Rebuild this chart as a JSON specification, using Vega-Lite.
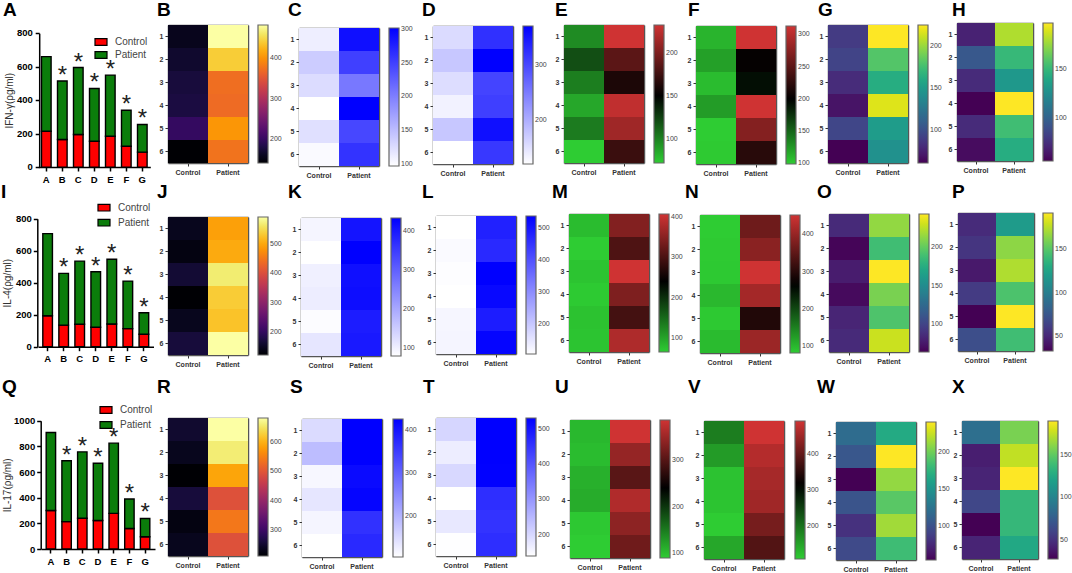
{
"$schema":"https://vega.github.io/schema/vega-lite/v6.json",
"padding":0,
"background":"white",
"columns":8,
"spacing":0,
"bounds":"flush",
"datasets":{
"bars":[
{"panel":"A","group":"A","series":"Control","value":215},{"panel":"A","group":"A","series":"Patient","value":445},
{"panel":"A","group":"B","series":"Control","value":165},{"panel":"A","group":"B","series":"Patient","value":350},
{"panel":"A","group":"C","series":"Control","value":195},{"panel":"A","group":"C","series":"Patient","value":400},
{"panel":"A","group":"D","series":"Control","value":155},{"panel":"A","group":"D","series":"Patient","value":315},
{"panel":"A","group":"E","series":"Control","value":185},{"panel":"A","group":"E","series":"Patient","value":365},
{"panel":"A","group":"F","series":"Control","value":125},{"panel":"A","group":"F","series":"Patient","value":215},
{"panel":"A","group":"G","series":"Control","value":90},{"panel":"A","group":"G","series":"Patient","value":165},
{"panel":"I","group":"A","series":"Control","value":193},{"panel":"I","group":"A","series":"Patient","value":514},
{"panel":"I","group":"B","series":"Control","value":135},{"panel":"I","group":"B","series":"Patient","value":323},
{"panel":"I","group":"C","series":"Control","value":140},{"panel":"I","group":"C","series":"Patient","value":395},
{"panel":"I","group":"D","series":"Control","value":122},{"panel":"I","group":"D","series":"Patient","value":346},
{"panel":"I","group":"E","series":"Control","value":142},{"panel":"I","group":"E","series":"Patient","value":405},
{"panel":"I","group":"F","series":"Control","value":113},{"panel":"I","group":"F","series":"Patient","value":297},
{"panel":"I","group":"G","series":"Control","value":78},{"panel":"I","group":"G","series":"Patient","value":134},
{"panel":"Q","group":"A","series":"Control","value":300},{"panel":"Q","group":"A","series":"Patient","value":608},
{"panel":"Q","group":"B","series":"Control","value":213},{"panel":"Q","group":"B","series":"Patient","value":475},
{"panel":"Q","group":"C","series":"Control","value":240},{"panel":"Q","group":"C","series":"Patient","value":517},
{"panel":"Q","group":"D","series":"Control","value":222},{"panel":"Q","group":"D","series":"Patient","value":446},
{"panel":"Q","group":"E","series":"Control","value":278},{"panel":"Q","group":"E","series":"Patient","value":547},
{"panel":"Q","group":"F","series":"Control","value":160},{"panel":"Q","group":"F","series":"Patient","value":230},
{"panel":"Q","group":"G","series":"Control","value":95},{"panel":"Q","group":"G","series":"Patient","value":143}
],
"stars":[
{"panel":"A","group":"B","total":515,"star":"*"},{"panel":"A","group":"C","total":595,"star":"*"},{"panel":"A","group":"D","total":470,"star":"*"},{"panel":"A","group":"E","total":550,"star":"*"},{"panel":"A","group":"F","total":340,"star":"*"},{"panel":"A","group":"G","total":255,"star":"*"},
{"panel":"I","group":"B","total":458,"star":"*"},{"panel":"I","group":"C","total":535,"star":"*"},{"panel":"I","group":"D","total":468,"star":"*"},{"panel":"I","group":"E","total":547,"star":"*"},{"panel":"I","group":"F","total":410,"star":"*"},{"panel":"I","group":"G","total":212,"star":"*"},
{"panel":"Q","group":"B","total":688,"star":"*"},{"panel":"Q","group":"C","total":757,"star":"*"},{"panel":"Q","group":"D","total":668,"star":"*"},{"panel":"Q","group":"E","total":825,"star":"*"},{"panel":"Q","group":"F","total":390,"star":"*"},{"panel":"Q","group":"G","total":238,"star":"*"}
],
"ticksA":[
{"group":"A","tick":0},{"group":"A","tick":200},{"group":"A","tick":400},{"group":"A","tick":600},{"group":"A","tick":800}
],
"heat":[
{"panel":"B","row":1,"group":"Control","value":157},{"panel":"B","row":2,"group":"Control","value":167},{"panel":"B","row":3,"group":"Control","value":175},{"panel":"B","row":4,"group":"Control","value":178},{"panel":"B","row":5,"group":"Control","value":198},{"panel":"B","row":6,"group":"Control","value":140},
{"panel":"B","row":1,"group":"Patient","value":483},{"panel":"B","row":2,"group":"Patient","value":442},{"panel":"B","row":3,"group":"Patient","value":373},{"panel":"B","row":4,"group":"Patient","value":370},{"panel":"B","row":5,"group":"Patient","value":404},{"panel":"B","row":6,"group":"Patient","value":377},
{"panel":"C","row":1,"group":"Control","value":111},{"panel":"C","row":2,"group":"Control","value":138},{"panel":"C","row":3,"group":"Control","value":125},{"panel":"C","row":4,"group":"Control","value":97},{"panel":"C","row":5,"group":"Control","value":122},{"panel":"C","row":6,"group":"Control","value":101},
{"panel":"C","row":1,"group":"Patient","value":289},{"panel":"C","row":2,"group":"Patient","value":250},{"panel":"C","row":3,"group":"Patient","value":205},{"panel":"C","row":4,"group":"Patient","value":301},{"panel":"C","row":5,"group":"Patient","value":244},{"panel":"C","row":6,"group":"Patient","value":260},
{"panel":"D","row":1,"group":"Control","value":156},{"panel":"D","row":2,"group":"Control","value":176},{"panel":"D","row":3,"group":"Control","value":154},{"panel":"D","row":4,"group":"Control","value":134},{"panel":"D","row":5,"group":"Control","value":176},{"panel":"D","row":6,"group":"Control","value":121},
{"panel":"D","row":1,"group":"Patient","value":324},{"panel":"D","row":2,"group":"Patient","value":371},{"panel":"D","row":3,"group":"Patient","value":304},{"panel":"D","row":4,"group":"Patient","value":309},{"panel":"D","row":5,"group":"Patient","value":356},{"panel":"D","row":6,"group":"Patient","value":316},
{"panel":"E","row":1,"group":"Control","value":97},{"panel":"E","row":2,"group":"Control","value":120},{"panel":"E","row":3,"group":"Control","value":102},{"panel":"E","row":4,"group":"Control","value":86},{"panel":"E","row":5,"group":"Control","value":103},{"panel":"E","row":6,"group":"Control","value":72},
{"panel":"E","row":1,"group":"Patient","value":232},{"panel":"E","row":2,"group":"Patient","value":186},{"panel":"E","row":3,"group":"Patient","value":161},{"panel":"E","row":4,"group":"Patient","value":226},{"panel":"E","row":5,"group":"Patient","value":213},{"panel":"E","row":6,"group":"Patient","value":173},
{"panel":"F","row":1,"group":"Control","value":111},{"panel":"F","row":2,"group":"Control","value":121},{"panel":"F","row":3,"group":"Control","value":107},{"panel":"F","row":4,"group":"Control","value":123},{"panel":"F","row":5,"group":"Control","value":99},{"panel":"F","row":6,"group":"Control","value":100},
{"panel":"F","row":1,"group":"Patient","value":313},{"panel":"F","row":2,"group":"Patient","value":203},{"panel":"F","row":3,"group":"Patient","value":193},{"panel":"F","row":4,"group":"Patient","value":313},{"panel":"F","row":5,"group":"Patient","value":272},{"panel":"F","row":6,"group":"Patient","value":222},
{"panel":"G","row":1,"group":"Control","value":89},{"panel":"G","row":2,"group":"Control","value":94},{"panel":"G","row":3,"group":"Control","value":81},{"panel":"G","row":4,"group":"Control","value":69},{"panel":"G","row":5,"group":"Control","value":95},{"panel":"G","row":6,"group":"Control","value":61},
{"panel":"G","row":1,"group":"Patient","value":225},{"panel":"G","row":2,"group":"Patient","value":181},{"panel":"G","row":3,"group":"Patient","value":163},{"panel":"G","row":4,"group":"Patient","value":217},{"panel":"G","row":5,"group":"Patient","value":151},{"panel":"G","row":6,"group":"Patient","value":143},
{"panel":"H","row":1,"group":"Control","value":68},{"panel":"H","row":2,"group":"Control","value":94},{"panel":"H","row":3,"group":"Control","value":72},{"panel":"H","row":4,"group":"Control","value":55},{"panel":"H","row":5,"group":"Control","value":72},{"panel":"H","row":6,"group":"Control","value":59},
{"panel":"H","row":1,"group":"Patient","value":181},{"panel":"H","row":2,"group":"Patient","value":151},{"panel":"H","row":3,"group":"Patient","value":131},{"panel":"H","row":4,"group":"Patient","value":198},{"panel":"H","row":5,"group":"Patient","value":154},{"panel":"H","row":6,"group":"Patient","value":144},
{"panel":"J","row":1,"group":"Control","value":145},{"panel":"J","row":2,"group":"Control","value":135},{"panel":"J","row":3,"group":"Control","value":163},{"panel":"J","row":4,"group":"Control","value":121},{"panel":"J","row":5,"group":"Control","value":145},{"panel":"J","row":6,"group":"Control","value":168},
{"panel":"J","row":1,"group":"Patient","value":493},{"panel":"J","row":2,"group":"Patient","value":503},{"panel":"J","row":3,"group":"Patient","value":568},{"panel":"J","row":4,"group":"Patient","value":535},{"panel":"J","row":5,"group":"Patient","value":526},{"panel":"J","row":6,"group":"Patient","value":592},
{"panel":"K","row":1,"group":"Control","value":93},{"panel":"K","row":2,"group":"Control","value":79},{"panel":"K","row":3,"group":"Control","value":100},{"panel":"K","row":4,"group":"Control","value":104},{"panel":"K","row":5,"group":"Control","value":83},{"panel":"K","row":6,"group":"Control","value":114},
{"panel":"K","row":1,"group":"Patient","value":405},{"panel":"K","row":2,"group":"Patient","value":433},{"panel":"K","row":3,"group":"Patient","value":412},{"panel":"K","row":4,"group":"Patient","value":415},{"panel":"K","row":5,"group":"Patient","value":394},{"panel":"K","row":6,"group":"Patient","value":398},
{"panel":"L","row":1,"group":"Control","value":107},{"panel":"L","row":2,"group":"Control","value":116},{"panel":"L","row":3,"group":"Control","value":111},{"panel":"L","row":4,"group":"Control","value":107},{"panel":"L","row":5,"group":"Control","value":122},{"panel":"L","row":6,"group":"Control","value":124},
{"panel":"L","row":1,"group":"Patient","value":482},{"panel":"L","row":2,"group":"Patient","value":469},{"panel":"L","row":3,"group":"Patient","value":538},{"panel":"L","row":4,"group":"Patient","value":525},{"panel":"L","row":5,"group":"Patient","value":491},{"panel":"L","row":6,"group":"Patient","value":529},
{"panel":"M","row":1,"group":"Control","value":79},{"panel":"M","row":2,"group":"Control","value":65},{"panel":"M","row":3,"group":"Control","value":72},{"panel":"M","row":4,"group":"Control","value":67},{"panel":"M","row":5,"group":"Control","value":74},{"panel":"M","row":6,"group":"Control","value":72},
{"panel":"M","row":1,"group":"Patient","value":345},{"panel":"M","row":2,"group":"Patient","value":303},{"panel":"M","row":3,"group":"Patient","value":407},{"panel":"M","row":4,"group":"Patient","value":342},{"panel":"M","row":5,"group":"Patient","value":295},{"panel":"M","row":6,"group":"Patient","value":380},
{"panel":"N","row":1,"group":"Control","value":81},{"panel":"N","row":2,"group":"Control","value":83},{"panel":"N","row":3,"group":"Control","value":84},{"panel":"N","row":4,"group":"Control","value":99},{"panel":"N","row":5,"group":"Control","value":84},{"panel":"N","row":6,"group":"Control","value":96},
{"panel":"N","row":1,"group":"Patient","value":364},{"panel":"N","row":2,"group":"Patient","value":390},{"panel":"N","row":3,"group":"Patient","value":452},{"panel":"N","row":4,"group":"Patient","value":413},{"panel":"N","row":5,"group":"Patient","value":295},{"panel":"N","row":6,"group":"Patient","value":405},
{"panel":"O","row":1,"group":"Control","value":85},{"panel":"O","row":2,"group":"Control","value":66},{"panel":"O","row":3,"group":"Control","value":77},{"panel":"O","row":4,"group":"Control","value":68},{"panel":"O","row":5,"group":"Control","value":82},{"panel":"O","row":6,"group":"Control","value":85},
{"panel":"O","row":1,"group":"Patient","value":214},{"panel":"O","row":2,"group":"Patient","value":188},{"panel":"O","row":3,"group":"Patient","value":243},{"panel":"O","row":4,"group":"Patient","value":207},{"panel":"O","row":5,"group":"Patient","value":193},{"panel":"O","row":6,"group":"Patient","value":229},
{"panel":"P","row":1,"group":"Control","value":52},{"panel":"P","row":2,"group":"Control","value":57},{"panel":"P","row":3,"group":"Control","value":43},{"panel":"P","row":4,"group":"Control","value":60},{"panel":"P","row":5,"group":"Control","value":33},{"panel":"P","row":6,"group":"Control","value":70},
{"panel":"P","row":1,"group":"Patient","value":120},{"panel":"P","row":2,"group":"Patient","value":165},{"panel":"P","row":3,"group":"Patient","value":173},{"panel":"P","row":4,"group":"Patient","value":147},{"panel":"P","row":5,"group":"Patient","value":192},{"panel":"P","row":6,"group":"Patient","value":143},
{"panel":"R","row":1,"group":"Control","value":249},{"panel":"R","row":2,"group":"Control","value":235},{"panel":"R","row":3,"group":"Control","value":211},{"panel":"R","row":4,"group":"Control","value":258},{"panel":"R","row":5,"group":"Control","value":225},{"panel":"R","row":6,"group":"Control","value":235},
{"panel":"R","row":1,"group":"Patient","value":681},{"panel":"R","row":2,"group":"Patient","value":658},{"panel":"R","row":3,"group":"Patient","value":587},{"panel":"R","row":4,"group":"Patient","value":493},{"panel":"R","row":5,"group":"Patient","value":540},{"panel":"R","row":6,"group":"Patient","value":493},
{"panel":"S","row":1,"group":"Control","value":150},{"panel":"S","row":2,"group":"Control","value":188},{"panel":"S","row":3,"group":"Control","value":115},{"panel":"S","row":4,"group":"Control","value":137},{"panel":"S","row":5,"group":"Control","value":118},{"panel":"S","row":6,"group":"Control","value":105},
{"panel":"S","row":1,"group":"Patient","value":425},{"panel":"S","row":2,"group":"Patient","value":425},{"panel":"S","row":3,"group":"Patient","value":412},{"panel":"S","row":4,"group":"Patient","value":419},{"panel":"S","row":5,"group":"Patient","value":364},{"panel":"S","row":6,"group":"Patient","value":374},
{"panel":"T","row":1,"group":"Control","value":202},{"panel":"T","row":2,"group":"Control","value":167},{"panel":"T","row":3,"group":"Control","value":199},{"panel":"T","row":4,"group":"Control","value":140},{"panel":"T","row":5,"group":"Control","value":175},{"panel":"T","row":6,"group":"Control","value":141},
{"panel":"T","row":1,"group":"Patient","value":530},{"panel":"T","row":2,"group":"Patient","value":530},{"panel":"T","row":3,"group":"Patient","value":528},{"panel":"T","row":4,"group":"Patient","value":460},{"panel":"T","row":5,"group":"Patient","value":452},{"panel":"T","row":6,"group":"Patient","value":460},
{"panel":"U","row":1,"group":"Control","value":104},{"panel":"U","row":2,"group":"Control","value":101},{"panel":"U","row":3,"group":"Control","value":110},{"panel":"U","row":4,"group":"Control","value":113},{"panel":"U","row":5,"group":"Control","value":92},{"panel":"U","row":6,"group":"Control","value":89},
{"panel":"U","row":1,"group":"Patient","value":387},{"panel":"U","row":2,"group":"Patient","value":346},{"panel":"U","row":3,"group":"Patient","value":303},{"panel":"U","row":4,"group":"Patient","value":365},{"panel":"U","row":5,"group":"Patient","value":340},{"panel":"U","row":6,"group":"Patient","value":319},
{"panel":"V","row":1,"group":"Control","value":189},{"panel":"V","row":2,"group":"Control","value":158},{"panel":"V","row":3,"group":"Control","value":119},{"panel":"V","row":4,"group":"Control","value":117},{"panel":"V","row":5,"group":"Control","value":109},{"panel":"V","row":6,"group":"Control","value":146},
{"panel":"V","row":1,"group":"Patient","value":491},{"panel":"V","row":2,"group":"Patient","value":468},{"panel":"V","row":3,"group":"Patient","value":456},{"panel":"V","row":4,"group":"Patient","value":451},{"panel":"V","row":5,"group":"Patient","value":415},{"panel":"V","row":6,"group":"Patient","value":385},
{"panel":"W","row":1,"group":"Control","value":119},{"panel":"W","row":2,"group":"Control","value":104},{"panel":"W","row":3,"group":"Control","value":54},{"panel":"W","row":4,"group":"Control","value":102},{"panel":"W","row":5,"group":"Control","value":80},{"panel":"W","row":6,"group":"Control","value":95},
{"panel":"W","row":1,"group":"Patient","value":167},{"panel":"W","row":2,"group":"Patient","value":240},{"panel":"W","row":3,"group":"Patient","value":210},{"panel":"W","row":4,"group":"Patient","value":192},{"panel":"W","row":5,"group":"Patient","value":214},{"panel":"W","row":6,"group":"Patient","value":182},
{"panel":"X","row":1,"group":"Control","value":86},{"panel":"X","row":2,"group":"Control","value":40},{"panel":"X","row":3,"group":"Control","value":43},{"panel":"X","row":4,"group":"Control","value":61},{"panel":"X","row":5,"group":"Control","value":27},{"panel":"X","row":6,"group":"Control","value":43},
{"panel":"X","row":1,"group":"Patient","value":157},{"panel":"X","row":2,"group":"Patient","value":175},{"panel":"X","row":3,"group":"Patient","value":190},{"panel":"X","row":4,"group":"Patient","value":136},{"panel":"X","row":5,"group":"Patient","value":136},{"panel":"X","row":6,"group":"Patient","value":125}
]
},
"concat":[
{"title":{"text":"A","offset":-20,"dx":3},"width":155,"height":185,"layer":[
{"data":{"name":"bars"},"transform":[{"filter":"datum.panel=='A'"}],"mark":{"type":"bar","stroke":"black","strokeWidth":1.4},"encoding":{
"x":{"field":"group","type":"nominal","scale":{"range":[38.3,150.3],"paddingInner":0.4,"paddingOuter":0.2},"axis":{"orient":"bottom","offset":-18,"title":null,"labelFontSize":9.5,"labelColor":"black","domainColor":"black","tickColor":"black","tickSize":4,"tickWidth":1.5,"labelPadding":3}},
"y":{"field":"value","type":"quantitative","stack":"zero","scale":{"domain":[0,800],"range":[167.2,33.2]},"axis":{"orient":"left","offset":-39.2,"tickCount":5,"labels":false,"title":"IFN-γ(ρg/ml)","titleFont":"Liberation Sans","titleFontSize":10,"titleFontWeight":"normal","titleColor":"#333","titlePadding":20,"domainColor":"black","tickColor":"black","tickSize":4,"tickWidth":1.5}},
"order":{"field":"series","sort":"ascending"},
"color":{"field":"series","type":"nominal","scale":{"domain":["Control","Patient"],"range":["#ff0000","#0b7d0b"]},"legend":{"orient":"none","legendX":94,"legendY":35,"title":null,"symbolType":"M-1,-0.55H1V0.55H-1Z","symbolSize":144,"symbolStrokeColor":"black","symbolStrokeWidth":1.2,"symbolOpacity":1,"labelFontSize":10,"labelColor":"#444","labelOffset":7,"rowPadding":0,"labelExpr":"datum.label=='Patient'?'\u00a0Patient':datum.label"}}}},
{"data":{"name":"stars"},"transform":[{"filter":"datum.panel=='A'"}],"mark":{"type":"text","font":"Liberation Sans","fontSize":24,"baseline":"alphabetic","dy":2,"color":"#222"},"encoding":{"x":{"field":"group","type":"nominal","axis":null},"y":{"field":"total","type":"quantitative","axis":null},"text":{"field":"star"}}},
{"data":{"name":"ticksA"},"mark":{"type":"text","font":"Liberation Sans","fontSize":9.5,"fontWeight":"bold","align":"right","baseline":"middle","dx":-13.4,"color":"black"},"encoding":{"x":{"field":"group","type":"nominal","axis":null},"y":{"field":"tick","type":"quantitative","axis":null},"text":{"field":"tick","type":"quantitative","format":"d"}}}
],"resolve":{"axis":{"x":"independent","y":"independent"}}},
{"title":{"text":"B","offset":-20,"dx":2},"width":131,"height":185,"data":{"name":"heat"},"transform":[{"filter":"datum.panel=='B'"}],"layer":[
{"mark":"rect","encoding":{"x":{"field":"group","type":"nominal","scale":{"range":[13,93],"padding":0},"axis":{"orient":"bottom","offset":-22,"title":null}},"y":{"field":"row","type":"ordinal","scale":{"range":[25,163],"padding":0},"axis":{"orient":"left","offset":-13,"title":null}},"color":{"field":"value","type":"quantitative","scale":{"domain":[140,483],"scheme":"inferno"},"legend":{"orient":"none","legendX":103,"legendY":25,"gradientLength":138,"values":[200,300,400]}}}},
{"mark":{"type":"rect","opacity":0},"encoding":{"x":{"field":"group","type":"nominal","axis":{"orient":"top","offset":-25,"labels":false,"ticks":false,"title":null}},"y":{"field":"row","type":"ordinal","axis":{"orient":"right","offset":-38,"labels":false,"ticks":false,"title":null}}}}
],"resolve":{"axis":{"x":"independent","y":"independent"}}},
{"title":{"text":"C","offset":-20,"dx":2},"width":132,"height":185,"data":{"name":"heat"},"transform":[{"filter":"datum.panel=='C'"}],"layer":[
{"mark":"rect","encoding":{"x":{"field":"group","type":"nominal","scale":{"range":[13,93],"padding":0},"axis":{"orient":"bottom","offset":-19,"title":null}},"y":{"field":"row","type":"ordinal","scale":{"range":[28,166],"padding":0},"axis":{"orient":"left","offset":-13,"title":null}},"color":{"field":"value","type":"quantitative","scale":{"domain":[97,301],"range":["#ffffff","#0000ff"],"interpolate":"rgb"},"legend":{"orient":"none","legendX":103,"legendY":28,"gradientLength":138,"values":[100,150,200,250,300]}}}},
{"mark":{"type":"rect","opacity":0},"encoding":{"x":{"field":"group","type":"nominal","axis":{"orient":"top","offset":-28,"labels":false,"ticks":false,"title":null}},"y":{"field":"row","type":"ordinal","axis":{"orient":"right","offset":-39,"labels":false,"ticks":false,"title":null}}}}
],"resolve":{"axis":{"x":"independent","y":"independent"}}},
{"title":{"text":"D","offset":-20,"dx":4},"width":132,"height":185,"data":{"name":"heat"},"transform":[{"filter":"datum.panel=='D'"}],"layer":[
{"mark":"rect","encoding":{"x":{"field":"group","type":"nominal","scale":{"range":[15,95],"padding":0},"axis":{"orient":"bottom","offset":-21,"title":null}},"y":{"field":"row","type":"ordinal","scale":{"range":[26,164],"padding":0},"axis":{"orient":"left","offset":-15,"title":null}},"color":{"field":"value","type":"quantitative","scale":{"domain":[121,371],"range":["#ffffff","#0000ff"],"interpolate":"rgb"},"legend":{"orient":"none","legendX":105,"legendY":26,"gradientLength":138,"values":[200,300]}}}},
{"mark":{"type":"rect","opacity":0},"encoding":{"x":{"field":"group","type":"nominal","axis":{"orient":"top","offset":-26,"labels":false,"ticks":false,"title":null}},"y":{"field":"row","type":"ordinal","axis":{"orient":"right","offset":-37,"labels":false,"ticks":false,"title":null}}}}
],"resolve":{"axis":{"x":"independent","y":"independent"}}},
{"title":{"text":"E","offset":-20,"dx":5},"width":134,"height":185,"data":{"name":"heat"},"transform":[{"filter":"datum.panel=='E'"}],"layer":[
{"mark":"rect","encoding":{"x":{"field":"group","type":"nominal","scale":{"range":[14,94],"padding":0},"axis":{"orient":"bottom","offset":-22,"title":null}},"y":{"field":"row","type":"ordinal","scale":{"range":[25,163],"padding":0},"axis":{"orient":"left","offset":-14,"title":null}},"color":{"field":"value","type":"quantitative","scale":{"domain":[72,150,232],"range":["#2ecc33","#000000","#cf3333"],"interpolate":"rgb"},"legend":{"orient":"none","legendX":104,"legendY":25,"gradientLength":138,"values":[100,150,200]}}}},
{"mark":{"type":"rect","opacity":0},"encoding":{"x":{"field":"group","type":"nominal","axis":{"orient":"top","offset":-25,"labels":false,"ticks":false,"title":null}},"y":{"field":"row","type":"ordinal","axis":{"orient":"right","offset":-40,"labels":false,"ticks":false,"title":null}}}}
],"resolve":{"axis":{"x":"independent","y":"independent"}}},
{"title":{"text":"F","offset":-20,"dx":4},"width":132,"height":185,"data":{"name":"heat"},"transform":[{"filter":"datum.panel=='F'"}],"layer":[
{"mark":"rect","encoding":{"x":{"field":"group","type":"nominal","scale":{"range":[12,92],"padding":0},"axis":{"orient":"bottom","offset":-21,"title":null}},"y":{"field":"row","type":"ordinal","scale":{"range":[26,164],"padding":0},"axis":{"orient":"left","offset":-12,"title":null}},"color":{"field":"value","type":"quantitative","scale":{"domain":[99,200,313],"range":["#2ecc33","#000000","#cf3333"],"interpolate":"rgb"},"legend":{"orient":"none","legendX":102,"legendY":26,"gradientLength":138,"values":[100,150,200,250,300]}}}},
{"mark":{"type":"rect","opacity":0},"encoding":{"x":{"field":"group","type":"nominal","axis":{"orient":"top","offset":-26,"labels":false,"ticks":false,"title":null}},"y":{"field":"row","type":"ordinal","axis":{"orient":"right","offset":-40,"labels":false,"ticks":false,"title":null}}}}
],"resolve":{"axis":{"x":"independent","y":"independent"}}},
{"title":{"text":"G","offset":-20,"dx":2},"width":132,"height":185,"data":{"name":"heat"},"transform":[{"filter":"datum.panel=='G'"}],"layer":[
{"mark":"rect","encoding":{"x":{"field":"group","type":"nominal","scale":{"range":[12,92],"padding":0},"axis":{"orient":"bottom","offset":-22,"title":null}},"y":{"field":"row","type":"ordinal","scale":{"range":[25,163],"padding":0},"axis":{"orient":"left","offset":-12,"title":null}},"color":{"field":"value","type":"quantitative","scale":{"domain":[61,225],"scheme":"viridis"},"legend":{"orient":"none","legendX":102,"legendY":25,"gradientLength":138,"values":[100,150,200]}}}},
{"mark":{"type":"rect","opacity":0},"encoding":{"x":{"field":"group","type":"nominal","axis":{"orient":"top","offset":-25,"labels":false,"ticks":false,"title":null}},"y":{"field":"row","type":"ordinal","axis":{"orient":"right","offset":-40,"labels":false,"ticks":false,"title":null}}}}
],"resolve":{"axis":{"x":"independent","y":"independent"}}},
{"title":{"text":"H","offset":-20,"dx":4},"width":124,"height":185,"data":{"name":"heat"},"transform":[{"filter":"datum.panel=='H'"}],"layer":[
{"mark":"rect","encoding":{"x":{"field":"group","type":"nominal","scale":{"range":[9,85],"padding":0},"axis":{"orient":"bottom","offset":-24,"title":null}},"y":{"field":"row","type":"ordinal","scale":{"range":[23,161],"padding":0},"axis":{"orient":"left","offset":-9,"title":null}},"color":{"field":"value","type":"quantitative","scale":{"domain":[55,198],"scheme":"viridis"},"legend":{"orient":"none","legendX":95,"legendY":23,"gradientLength":138,"values":[100,150]}}}},
{"mark":{"type":"rect","opacity":0},"encoding":{"x":{"field":"group","type":"nominal","axis":{"orient":"top","offset":-23,"labels":false,"ticks":false,"title":null}},"y":{"field":"row","type":"ordinal","axis":{"orient":"right","offset":-39,"labels":false,"ticks":false,"title":null}}}}
],"resolve":{"axis":{"x":"independent","y":"independent"}}},

{"title":{"text":"I","offset":-17,"dx":1},"width":155,"height":193,"layer":[
{"data":{"name":"bars"},"transform":[{"filter":"datum.panel=='I'"}],"mark":{"type":"bar","stroke":"black","strokeWidth":1.4},"encoding":{
"x":{"field":"group","type":"nominal","scale":{"range":[38,153.5],"paddingInner":0.4,"paddingOuter":0.3},"axis":{"orient":"bottom","offset":-31.3,"title":null,"labelFontSize":9.5,"labelColor":"black","domainColor":"black","tickColor":"black","tickSize":4,"tickWidth":1.5,"labelPadding":3}},
"y":{"field":"value","type":"quantitative","stack":"zero","scale":{"domain":[0,800],"range":[161.7,33.7]},"axis":{"orient":"left","offset":-37.3,"values":[0,200,400,600,800],"format":"d","labelOverlap":false,"title":"IL-4(ρg/ml)","titleFont":"Liberation Sans","titleFontSize":10,"titleFontWeight":"normal","titleColor":"#333","titlePadding":3,"labelFontSize":9.5,"labelColor":"black","domainColor":"black","tickColor":"black","tickSize":4,"tickWidth":1.5,"labelPadding":2}},
"order":{"field":"series","sort":"ascending"},
"color":{"field":"series","type":"nominal","scale":{"domain":["Control","Patient"],"range":["#ff0000","#0b7d0b"]},"legend":{"orient":"none","legendX":97,"legendY":15.7,"title":null,"symbolType":"M-1,-0.55H1V0.55H-1Z","symbolSize":144,"symbolStrokeColor":"black","symbolStrokeWidth":1.2,"symbolOpacity":1,"labelFontSize":10,"labelColor":"#444","labelOffset":7,"rowPadding":2,"labelExpr":"datum.label=='Patient'?'\u00a0Patient':datum.label"}}}},
{"data":{"name":"stars"},"transform":[{"filter":"datum.panel=='I'"}],"mark":{"type":"text","font":"Liberation Sans","fontSize":24,"baseline":"alphabetic","dy":2,"color":"#222"},"encoding":{"x":{"field":"group","type":"nominal","axis":null},"y":{"field":"total","type":"quantitative","axis":null},"text":{"field":"star"}}}
],"resolve":{"axis":{"x":"independent","y":"independent"}}},
{"title":{"text":"J","offset":-17,"dx":2},"width":131,"height":193,"data":{"name":"heat"},"transform":[{"filter":"datum.panel=='J'"}],"layer":[
{"mark":"rect","encoding":{"x":{"field":"group","type":"nominal","scale":{"range":[13,93],"padding":0},"axis":{"orient":"bottom","offset":-23,"title":null}},"y":{"field":"row","type":"ordinal","scale":{"range":[32,170],"padding":0},"axis":{"orient":"left","offset":-13,"title":null}},"color":{"field":"value","type":"quantitative","scale":{"domain":[121,592],"scheme":"inferno"},"legend":{"orient":"none","legendX":103,"legendY":32,"gradientLength":138,"values":[200,300,400,500]}}}},
{"mark":{"type":"rect","opacity":0},"encoding":{"x":{"field":"group","type":"nominal","axis":{"orient":"top","offset":-32,"labels":false,"ticks":false,"title":null}},"y":{"field":"row","type":"ordinal","axis":{"orient":"right","offset":-38,"labels":false,"ticks":false,"title":null}}}}
],"resolve":{"axis":{"x":"independent","y":"independent"}}},
{"title":{"text":"K","offset":-17,"dx":2},"width":132,"height":193,"data":{"name":"heat"},"transform":[{"filter":"datum.panel=='K'"}],"layer":[
{"mark":"rect","encoding":{"x":{"field":"group","type":"nominal","scale":{"range":[15,95],"padding":0},"axis":{"orient":"bottom","offset":-22,"title":null}},"y":{"field":"row","type":"ordinal","scale":{"range":[33,171],"padding":0},"axis":{"orient":"left","offset":-15,"title":null}},"color":{"field":"value","type":"quantitative","scale":{"domain":[79,433],"range":["#ffffff","#0000ff"],"interpolate":"rgb"},"legend":{"orient":"none","legendX":105,"legendY":33,"gradientLength":138,"values":[100,200,300,400]}}}},
{"mark":{"type":"rect","opacity":0},"encoding":{"x":{"field":"group","type":"nominal","axis":{"orient":"top","offset":-33,"labels":false,"ticks":false,"title":null}},"y":{"field":"row","type":"ordinal","axis":{"orient":"right","offset":-37,"labels":false,"ticks":false,"title":null}}}}
],"resolve":{"axis":{"x":"independent","y":"independent"}}},
{"title":{"text":"L","offset":-17,"dx":4},"width":132,"height":193,"data":{"name":"heat"},"transform":[{"filter":"datum.panel=='L'"}],"layer":[
{"mark":"rect","encoding":{"x":{"field":"group","type":"nominal","scale":{"range":[18,98],"padding":0},"axis":{"orient":"bottom","offset":-24,"title":null}},"y":{"field":"row","type":"ordinal","scale":{"range":[31,169],"padding":0},"axis":{"orient":"left","offset":-18,"title":null}},"color":{"field":"value","type":"quantitative","scale":{"domain":[107,538],"range":["#ffffff","#0000ff"],"interpolate":"rgb"},"legend":{"orient":"none","legendX":108,"legendY":31,"gradientLength":138,"values":[200,300,400,500]}}}},
{"mark":{"type":"rect","opacity":0},"encoding":{"x":{"field":"group","type":"nominal","axis":{"orient":"top","offset":-31,"labels":false,"ticks":false,"title":null}},"y":{"field":"row","type":"ordinal","axis":{"orient":"right","offset":-34,"labels":false,"ticks":false,"title":null}}}}
],"resolve":{"axis":{"x":"independent","y":"independent"}}},
{"title":{"text":"M","offset":-17,"dx":2},"width":134,"height":193,"data":{"name":"heat"},"transform":[{"filter":"datum.panel=='M'"}],"layer":[
{"mark":"rect","encoding":{"x":{"field":"group","type":"nominal","scale":{"range":[19,99],"padding":0},"axis":{"orient":"bottom","offset":-26,"title":null}},"y":{"field":"row","type":"ordinal","scale":{"range":[29,167],"padding":0},"axis":{"orient":"left","offset":-19,"title":null}},"color":{"field":"value","type":"quantitative","scale":{"domain":[65,240,407],"range":["#2ecc33","#000000","#cf3333"],"interpolate":"rgb"},"legend":{"orient":"none","legendX":109,"legendY":29,"gradientLength":138,"values":[100,200,300,400]}}}},
{"mark":{"type":"rect","opacity":0},"encoding":{"x":{"field":"group","type":"nominal","axis":{"orient":"top","offset":-29,"labels":false,"ticks":false,"title":null}},"y":{"field":"row","type":"ordinal","axis":{"orient":"right","offset":-35,"labels":false,"ticks":false,"title":null}}}}
],"resolve":{"axis":{"x":"independent","y":"independent"}}},
{"title":{"text":"N","offset":-17,"dx":1},"width":132,"height":193,"data":{"name":"heat"},"transform":[{"filter":"datum.panel=='N'"}],"layer":[
{"mark":"rect","encoding":{"x":{"field":"group","type":"nominal","scale":{"range":[16,96],"padding":0},"axis":{"orient":"bottom","offset":-25,"title":null}},"y":{"field":"row","type":"ordinal","scale":{"range":[30,168],"padding":0},"axis":{"orient":"left","offset":-16,"title":null}},"color":{"field":"value","type":"quantitative","scale":{"domain":[81,265,452],"range":["#2ecc33","#000000","#cf3333"],"interpolate":"rgb"},"legend":{"orient":"none","legendX":106,"legendY":30,"gradientLength":138,"values":[100,200,300,400]}}}},
{"mark":{"type":"rect","opacity":0},"encoding":{"x":{"field":"group","type":"nominal","axis":{"orient":"top","offset":-30,"labels":false,"ticks":false,"title":null}},"y":{"field":"row","type":"ordinal","axis":{"orient":"right","offset":-36,"labels":false,"ticks":false,"title":null}}}}
],"resolve":{"axis":{"x":"independent","y":"independent"}}},
{"title":{"text":"O","offset":-17,"dx":1},"width":132,"height":193,"data":{"name":"heat"},"transform":[{"filter":"datum.panel=='O'"}],"layer":[
{"mark":"rect","encoding":{"x":{"field":"group","type":"nominal","scale":{"range":[13,93],"padding":0},"axis":{"orient":"bottom","offset":-26,"title":null}},"y":{"field":"row","type":"ordinal","scale":{"range":[29,167],"padding":0},"axis":{"orient":"left","offset":-13,"title":null}},"color":{"field":"value","type":"quantitative","scale":{"domain":[64,243],"scheme":"viridis"},"legend":{"orient":"none","legendX":103,"legendY":29,"gradientLength":138,"values":[100,150,200]}}}},
{"mark":{"type":"rect","opacity":0},"encoding":{"x":{"field":"group","type":"nominal","axis":{"orient":"top","offset":-29,"labels":false,"ticks":false,"title":null}},"y":{"field":"row","type":"ordinal","axis":{"orient":"right","offset":-39,"labels":false,"ticks":false,"title":null}}}}
],"resolve":{"axis":{"x":"independent","y":"independent"}}},
{"title":{"text":"P","offset":-17,"dx":4},"width":124,"height":193,"data":{"name":"heat"},"transform":[{"filter":"datum.panel=='P'"}],"layer":[
{"mark":"rect","encoding":{"x":{"field":"group","type":"nominal","scale":{"range":[10,86],"padding":0},"axis":{"orient":"bottom","offset":-27,"title":null}},"y":{"field":"row","type":"ordinal","scale":{"range":[28,166],"padding":0},"axis":{"orient":"left","offset":-10,"title":null}},"color":{"field":"value","type":"quantitative","scale":{"domain":[33,192],"scheme":"viridis"},"legend":{"orient":"none","legendX":95,"legendY":28,"gradientLength":138,"values":[50,100,150]}}}},
{"mark":{"type":"rect","opacity":0},"encoding":{"x":{"field":"group","type":"nominal","axis":{"orient":"top","offset":-28,"labels":false,"ticks":false,"title":null}},"y":{"field":"row","type":"ordinal","axis":{"orient":"right","offset":-38,"labels":false,"ticks":false,"title":null}}}}
],"resolve":{"axis":{"x":"independent","y":"independent"}}},

{"title":{"text":"Q","offset":-19,"dx":2},"width":155,"height":195,"layer":[
{"data":{"name":"bars"},"transform":[{"filter":"datum.panel=='Q'"}],"mark":{"type":"bar","stroke":"black","strokeWidth":1.4},"encoding":{
"x":{"field":"group","type":"nominal","scale":{"range":[41,155],"paddingInner":0.4,"paddingOuter":0.33},"axis":{"orient":"bottom","offset":-24,"title":null,"labelFontSize":9.5,"labelColor":"black","domainColor":"black","tickColor":"black","tickSize":4,"tickWidth":1.5,"labelPadding":3}},
"y":{"field":"value","type":"quantitative","stack":"zero","scale":{"domain":[0,1000],"range":[171,42.7]},"axis":{"orient":"left","offset":-40.7,"values":[0,200,400,600,800,1000],"format":"d","labelOverlap":false,"title":"IL-17(ρg/ml)","titleFont":"Liberation Sans","titleFontSize":10,"titleFontWeight":"normal","titleColor":"#333","titlePadding":1,"labelFontSize":9.5,"labelColor":"black","domainColor":"black","tickColor":"black","tickSize":4,"tickWidth":1.5,"labelPadding":2}},
"order":{"field":"series","sort":"ascending"},
"color":{"field":"series","type":"nominal","scale":{"domain":["Control","Patient"],"range":["#ff0000","#0b7d0b"]},"legend":{"orient":"none","legendX":99,"legendY":25,"title":null,"symbolType":"M-1,-0.55H1V0.55H-1Z","symbolSize":144,"symbolStrokeColor":"black","symbolStrokeWidth":1.2,"symbolOpacity":1,"labelFontSize":10,"labelColor":"#444","labelOffset":7,"rowPadding":2,"labelExpr":"datum.label=='Patient'?'\u00a0Patient':datum.label"}}}},
{"data":{"name":"stars"},"transform":[{"filter":"datum.panel=='Q'"}],"mark":{"type":"text","font":"Liberation Sans","fontSize":24,"baseline":"alphabetic","dy":2,"color":"#222"},"encoding":{"x":{"field":"group","type":"nominal","axis":null},"y":{"field":"total","type":"quantitative","axis":null},"text":{"field":"star"}}}
],"resolve":{"axis":{"x":"independent","y":"independent"}}},
{"title":{"text":"R","offset":-19,"dx":2},"width":131,"height":195,"data":{"name":"heat"},"transform":[{"filter":"datum.panel=='R'"}],"layer":[
{"mark":"rect","encoding":{"x":{"field":"group","type":"nominal","scale":{"range":[13,93],"padding":0},"axis":{"orient":"bottom","offset":-17,"title":null}},"y":{"field":"row","type":"ordinal","scale":{"range":[40,178],"padding":0},"axis":{"orient":"left","offset":-13,"title":null}},"color":{"field":"value","type":"quantitative","scale":{"domain":[211,681],"scheme":"inferno"},"legend":{"orient":"none","legendX":103,"legendY":40,"gradientLength":138,"values":[300,400,500,600]}}}},
{"mark":{"type":"rect","opacity":0},"encoding":{"x":{"field":"group","type":"nominal","axis":{"orient":"top","offset":-40,"labels":false,"ticks":false,"title":null}},"y":{"field":"row","type":"ordinal","axis":{"orient":"right","offset":-38,"labels":false,"ticks":false,"title":null}}}}
],"resolve":{"axis":{"x":"independent","y":"independent"}}},
{"title":{"text":"S","offset":-19,"dx":4},"width":132,"height":195,"data":{"name":"heat"},"transform":[{"filter":"datum.panel=='S'"}],"layer":[
{"mark":"rect","encoding":{"x":{"field":"group","type":"nominal","scale":{"range":[16,96],"padding":0},"axis":{"orient":"bottom","offset":-16,"title":null}},"y":{"field":"row","type":"ordinal","scale":{"range":[41,179],"padding":0},"axis":{"orient":"left","offset":-16,"title":null}},"color":{"field":"value","type":"quantitative","scale":{"domain":[105,425],"range":["#ffffff","#0000ff"],"interpolate":"rgb"},"legend":{"orient":"none","legendX":107,"legendY":41,"gradientLength":138,"values":[200,300,400]}}}},
{"mark":{"type":"rect","opacity":0},"encoding":{"x":{"field":"group","type":"nominal","axis":{"orient":"top","offset":-41,"labels":false,"ticks":false,"title":null}},"y":{"field":"row","type":"ordinal","axis":{"orient":"right","offset":-36,"labels":false,"ticks":false,"title":null}}}}
],"resolve":{"axis":{"x":"independent","y":"independent"}}},
{"title":{"text":"T","offset":-19,"dx":5},"width":132,"height":195,"data":{"name":"heat"},"transform":[{"filter":"datum.panel=='T'"}],"layer":[
{"mark":"rect","encoding":{"x":{"field":"group","type":"nominal","scale":{"range":[18,98],"padding":0},"axis":{"orient":"bottom","offset":-17,"title":null}},"y":{"field":"row","type":"ordinal","scale":{"range":[40,178],"padding":0},"axis":{"orient":"left","offset":-18,"title":null}},"color":{"field":"value","type":"quantitative","scale":{"domain":[140,530],"range":["#ffffff","#0000ff"],"interpolate":"rgb"},"legend":{"orient":"none","legendX":108,"legendY":40,"gradientLength":138,"values":[200,300,400,500]}}}},
{"mark":{"type":"rect","opacity":0},"encoding":{"x":{"field":"group","type":"nominal","axis":{"orient":"top","offset":-40,"labels":false,"ticks":false,"title":null}},"y":{"field":"row","type":"ordinal","axis":{"orient":"right","offset":-34,"labels":false,"ticks":false,"title":null}}}}
],"resolve":{"axis":{"x":"independent","y":"independent"}}},
{"title":{"text":"U","offset":-19,"dx":5},"width":134,"height":195,"data":{"name":"heat"},"transform":[{"filter":"datum.panel=='U'"}],"layer":[
{"mark":"rect","encoding":{"x":{"field":"group","type":"nominal","scale":{"range":[20,100],"padding":0},"axis":{"orient":"bottom","offset":-15,"title":null}},"y":{"field":"row","type":"ordinal","scale":{"range":[42,180],"padding":0},"axis":{"orient":"left","offset":-20,"title":null}},"color":{"field":"value","type":"quantitative","scale":{"domain":[89,240,387],"range":["#2ecc33","#000000","#cf3333"],"interpolate":"rgb"},"legend":{"orient":"none","legendX":110,"legendY":42,"gradientLength":138,"values":[100,200,300]}}}},
{"mark":{"type":"rect","opacity":0},"encoding":{"x":{"field":"group","type":"nominal","axis":{"orient":"top","offset":-42,"labels":false,"ticks":false,"title":null}},"y":{"field":"row","type":"ordinal","axis":{"orient":"right","offset":-34,"labels":false,"ticks":false,"title":null}}}}
],"resolve":{"axis":{"x":"independent","y":"independent"}}},
{"title":{"text":"V","offset":-19,"dx":4},"width":132,"height":195,"data":{"name":"heat"},"transform":[{"filter":"datum.panel=='V'"}],"layer":[
{"mark":"rect","encoding":{"x":{"field":"group","type":"nominal","scale":{"range":[20,100],"padding":0},"axis":{"orient":"bottom","offset":-14,"title":null}},"y":{"field":"row","type":"ordinal","scale":{"range":[43,181],"padding":0},"axis":{"orient":"left","offset":-20,"title":null}},"color":{"field":"value","type":"quantitative","scale":{"domain":[109,315,491],"range":["#2ecc33","#000000","#cf3333"],"interpolate":"rgb"},"legend":{"orient":"none","legendX":111,"legendY":43,"gradientLength":138,"values":[200,300,400]}}}},
{"mark":{"type":"rect","opacity":0},"encoding":{"x":{"field":"group","type":"nominal","axis":{"orient":"top","offset":-43,"labels":false,"ticks":false,"title":null}},"y":{"field":"row","type":"ordinal","axis":{"orient":"right","offset":-32,"labels":false,"ticks":false,"title":null}}}}
],"resolve":{"axis":{"x":"independent","y":"independent"}}},
{"title":{"text":"W","offset":-19,"dx":1},"width":132,"height":195,"data":{"name":"heat"},"transform":[{"filter":"datum.panel=='W'"}],"layer":[
{"mark":"rect","encoding":{"x":{"field":"group","type":"nominal","scale":{"range":[20,100],"padding":0},"axis":{"orient":"bottom","offset":-13,"title":null}},"y":{"field":"row","type":"ordinal","scale":{"range":[44,182],"padding":0},"axis":{"orient":"left","offset":-20,"title":null}},"color":{"field":"value","type":"quantitative","scale":{"domain":[54,240],"scheme":"viridis"},"legend":{"orient":"none","legendX":110,"legendY":44,"gradientLength":138,"values":[100,150,200]}}}},
{"mark":{"type":"rect","opacity":0},"encoding":{"x":{"field":"group","type":"nominal","axis":{"orient":"top","offset":-44,"labels":false,"ticks":false,"title":null}},"y":{"field":"row","type":"ordinal","axis":{"orient":"right","offset":-32,"labels":false,"ticks":false,"title":null}}}}
],"resolve":{"axis":{"x":"independent","y":"independent"}}},
{"title":{"text":"X","offset":-19,"dx":4},"width":124,"height":195,"data":{"name":"heat"},"transform":[{"filter":"datum.panel=='X'"}],"layer":[
{"mark":"rect","encoding":{"x":{"field":"group","type":"nominal","scale":{"range":[14,90],"padding":0},"axis":{"orient":"bottom","offset":-14,"title":null}},"y":{"field":"row","type":"ordinal","scale":{"range":[43,181],"padding":0},"axis":{"orient":"left","offset":-14,"title":null}},"color":{"field":"value","type":"quantitative","scale":{"domain":[27,190],"scheme":"viridis"},"legend":{"orient":"none","legendX":100,"legendY":43,"gradientLength":138,"values":[50,100,150]}}}},
{"mark":{"type":"rect","opacity":0},"encoding":{"x":{"field":"group","type":"nominal","axis":{"orient":"top","offset":-43,"labels":false,"ticks":false,"title":null}},"y":{"field":"row","type":"ordinal","axis":{"orient":"right","offset":-34,"labels":false,"ticks":false,"title":null}}}}
],"resolve":{"axis":{"x":"independent","y":"independent"}}}
],
"resolve":{"scale":{"color":"independent","x":"independent","y":"independent"},"legend":{"color":"independent"}},
"config":{
"view":{"stroke":null},
"title":{"font":"Liberation Sans","fontSize":19,"fontWeight":"bold","color":"black","anchor":"start","frame":"group","baseline":"alphabetic"},
"axis":{"labelFont":"Liberation Sans","labelFontWeight":"bold","labelFontSize":7,"labelColor":"#333","domainColor":"#555","domainWidth":1.5,"tickColor":"#333","tickSize":3,"tickWidth":1,"labelPadding":2,"grid":false,"zindex":1,"labelAngle":0},
"legend":{"gradientThickness":10,"labelFont":"Liberation Sans","labelFontSize":7,"labelColor":"#444","labelOverlap":false,"gradientStrokeColor":"#666","gradientStrokeWidth":1.2,"title":null,"padding":0}
}
}
